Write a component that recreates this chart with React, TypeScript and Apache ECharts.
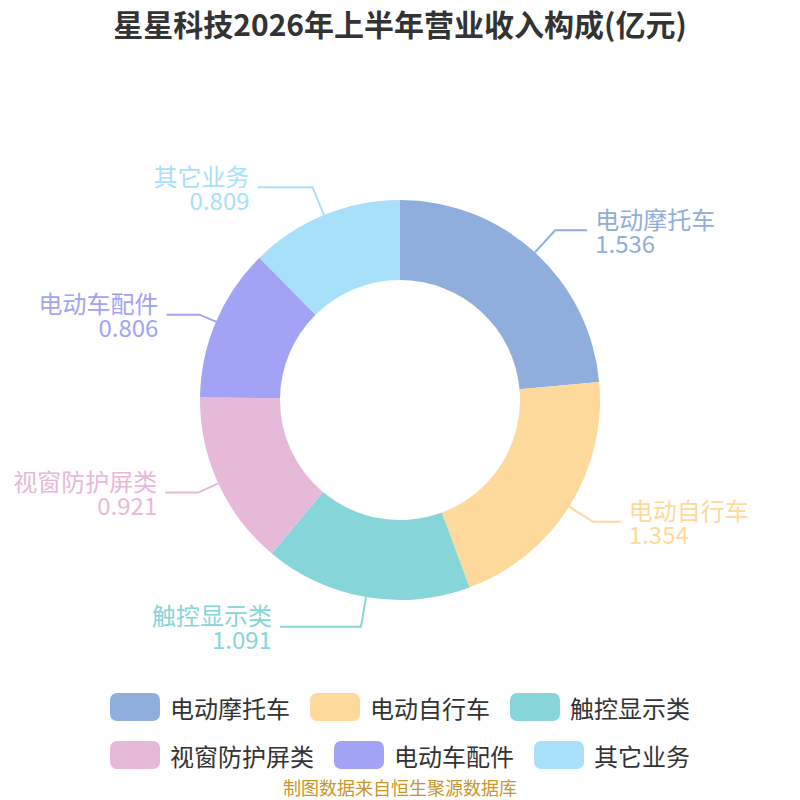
import React, { useEffect, useRef } from "react";
import * as echarts from "echarts";

const categories = ["电动摩托车", "电动自行车", "触控显示类", "视窗防护屏类", "电动车配件", "其它业务"];
const values = [1.536, 1.354, 1.091, 0.921, 0.806, 0.809];
const colors = ["#8FAEDB", "#FED99B", "#86D5D8", "#E6B9D9", "#A3A3F5", "#A8E0F9"];
const titleText = "星星科技2026年上半年营业收入构成(亿元)";
const sourceText = "制图数据来自恒生聚源数据库";

export default function App() {
  const ref = useRef<HTMLDivElement>(null);
  useEffect(() => {
    if (!ref.current) return;
    const chart = echarts.init(ref.current, null, { renderer: "svg" });
    // label-line lengths per slice [length, length2]
    const lineLens = [
      [30, 32],
      [28, 28],
      [30, 81],
      [22, 33],
      [18, 33],
      [30, 55],
    ];
    chart.setOption({
      animation: false,
      color: colors,
      title: {
        text: titleText,
        left: "center",
        top: 3,
        textStyle: {
          fontSize: 30,
          fontWeight: "bold",
          color: "#333",
          fontFamily: "Noto Sans CJK SC",
        },
      },
      legend: {
        data: categories,
        top: 688,
        left: "center",
        width: 600,
        itemGap: 20,
        itemWidth: 50,
        itemHeight: 28,
        icon: "roundRect",
        textStyle: {
          fontSize: 24,
          color: "#333",
          padding: [0, 0, 0, 5],
          fontFamily: "Noto Sans CJK SC",
        },
      },
      graphic: [
        {
          type: "text",
          left: "center",
          top: 778,
          style: {
            text: sourceText,
            fontSize: 18,
            fill: "#C8962A",
            fontFamily: "Noto Sans CJK SC",
          },
        },
      ],
      series: [
        {
          type: "pie",
          center: ["50%", "50%"],
          radius: ["30%", "50%"],
          startAngle: 90,
          data: categories.map((c, i) => ({
            name: c,
            value: values[i],
            label: { color: colors[i] },
            labelLine: { length: lineLens[i][0], length2: lineLens[i][1] },
          })),
          label: {
            formatter: "{b}\n{c}",
            fontSize: 24,
            lineHeight: 24,
            overflow: "none",
            fontFamily: "Noto Sans CJK SC",
            distanceToLabelLine: 8,
            padding: [0, 0, 4, 0],
          },
          labelLine: {
            length: 30,
            length2: 30,
            lineStyle: { width: 2 },
          },
        },
      ],
    });
    return () => chart.dispose();
  }, []);
  return (
    <div
      ref={ref}
      style={{ position: "absolute", left: 0, top: 0, width: 800, height: 800 }}
    />
  );
}
